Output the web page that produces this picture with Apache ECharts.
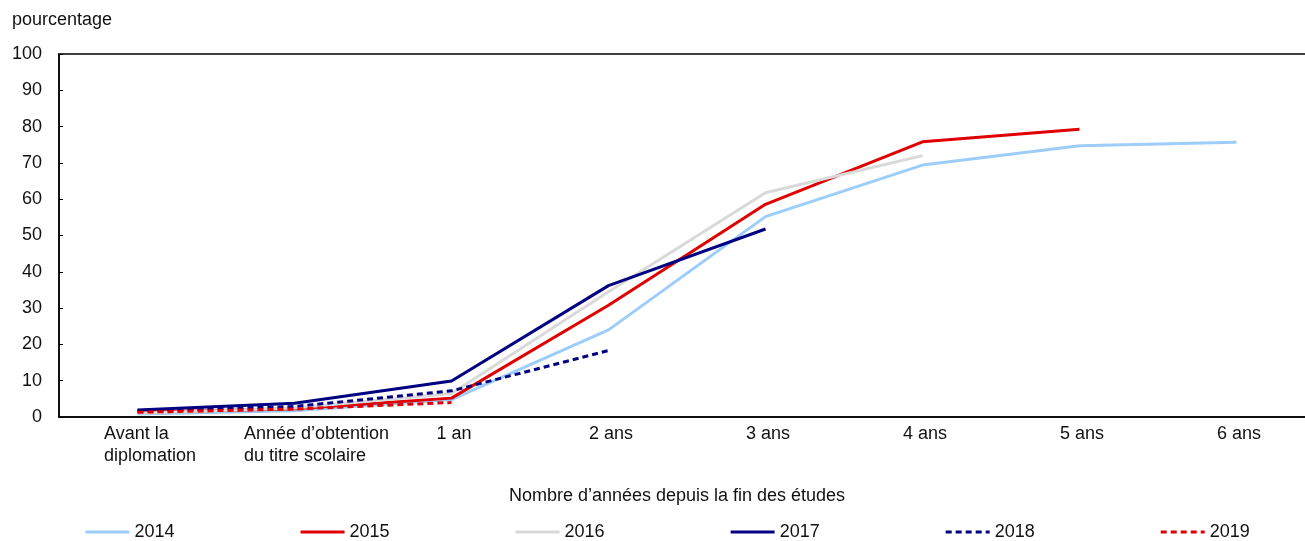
<!DOCTYPE html>
<html>
<head>
<meta charset="utf-8">
<script src="https://cdn.jsdelivr.net/npm/echarts@6/dist/echarts.min.js"></script>
<style>
  html, body { margin: 0; padding: 0; background: #fff; }
  #chart { width: 1305px; height: 541px; }
</style>
</head>
<body>
<div id="chart"></div>
<script>
// Part des diplômés en emploi selon le nombre d'années depuis la fin des études
const categories = ['Avant la\ndiplomation', 'Année d’obtention\ndu titre scolaire', '1 an', '2 ans', '3 ans', '4 ans', '5 ans', '6 ans'];
const yTicks = [0, 10, 20, 30, 40, 50, 60, 70, 80, 90, 100];

const s2014 = [0.8, 1.7, 4.8, 24.0, 55.2, 69.4, 74.7, 75.7];
const s2015 = [1.3, 2.3, 5.2, 30.8, 58.6, 75.8, 79.3];
const s2016 = [1.0, 2.5, 6.5, 34.5, 61.8, 72.0];
const s2017 = [1.9, 3.8, 9.9, 36.2, 51.8];
const s2018 = [1.7, 2.9, 7.2, 18.3];
const s2019 = [1.3, 2.2, 4.0];

const FONT = 'Liberation Sans';
const FS = 18;
const TEXT = '#111';

const seriesDefs = [
  { name: '2014', data: s2014, color: '#9dcdfa', type: 'solid' },
  { name: '2015', data: s2015, color: '#e00000', type: 'solid' },
  { name: '2016', data: s2016, color: '#d9d9d9', type: 'solid' },
  { name: '2017', data: s2017, color: '#000080', type: 'solid' },
  { name: '2018', data: s2018, color: '#000080', type: [6, 4] },
  { name: '2019', data: s2019, color: '#e00000', type: [6, 4] }
];

// two-line labels are left-aligned and shifted per category
function labelFormatter(value, idx) {
  if (idx === 0) return value.split('\n').map(l => '{a|' + l + '}').join('\n');
  if (idx === 1) return value.split('\n').map(l => '{b|' + l + '}').join('\n');
  return '{c|' + value + '}';
}

const chart = echarts.init(document.getElementById('chart'), null, { renderer: 'canvas' });
chart.setOption({
  animation: false,
  textStyle: { fontFamily: FONT },
  title: {
    text: 'pourcentage',
    left: 7, top: 6,
    textStyle: { fontFamily: FONT, fontSize: FS, fontWeight: 'normal', color: TEXT }
  },
  grid: {
    left: 59, top: 54, width: 1256, height: 363,
    outerBoundsMode: 'none',
    containLabel: false,
    show: true, borderColor: '#000', borderWidth: 1.5, backgroundColor: 'transparent'
  },
  legend: {
    left: 84, top: 523, padding: 0,
    itemWidth: 44, itemHeight: 4, itemGap: 124.5,
    itemStyle: { opacity: 0 },
    lineStyle: { width: 3 },
    textStyle: { fontFamily: FONT, fontSize: FS, color: TEXT },
    data: seriesDefs.map(s => s.name)
  },
  xAxis: {
    type: 'category',
    data: categories,
    boundaryGap: true,
    axisLine: { lineStyle: { color: '#000', width: 1.5 } },
    axisTick: { show: false },
    axisLabel: {
      interval: 0, margin: 6,
      formatter: labelFormatter,
      rich: {
        a: { align: 'left', fontFamily: FONT, fontSize: FS, color: TEXT, lineHeight: 22, padding: [0, 0, 0, 25] },
        b: { align: 'left', fontFamily: FONT, fontSize: FS, color: TEXT, lineHeight: 22, padding: [0, 0, 0, 44] },
        c: { fontFamily: FONT, fontSize: FS, color: TEXT, lineHeight: 22, padding: [0, 0, 0, 5] }
      }
    },
    name: 'Nombre d’années depuis la fin des études',
    nameLocation: 'middle',
    nameGap: 70,
    nameTextStyle: { fontFamily: FONT, fontSize: FS, color: TEXT, padding: [0, 20, 0, 0] }
  },
  yAxis: {
    type: 'value',
    min: 0, max: 100, interval: 10,
    axisLine: { show: true, lineStyle: { color: '#000', width: 1.5 } },
    axisTick: { show: true, inside: true, length: 4, lineStyle: { color: '#000' } },
    splitLine: { show: false },
    axisLabel: {
      margin: 17, fontFamily: FONT, fontSize: FS, color: TEXT,
      formatter: v => (yTicks.indexOf(v) >= 0 ? String(v) : '')
    }
  },
  series: seriesDefs.map(s => ({
    name: s.name,
    type: 'line',
    data: s.data,
    symbol: 'none',
    showSymbol: false,
    smooth: false,
    color: s.color,
    lineStyle: { color: s.color, width: 3, type: s.type },
    itemStyle: { color: s.color }
  }))
});
</script>
</body>
</html>
